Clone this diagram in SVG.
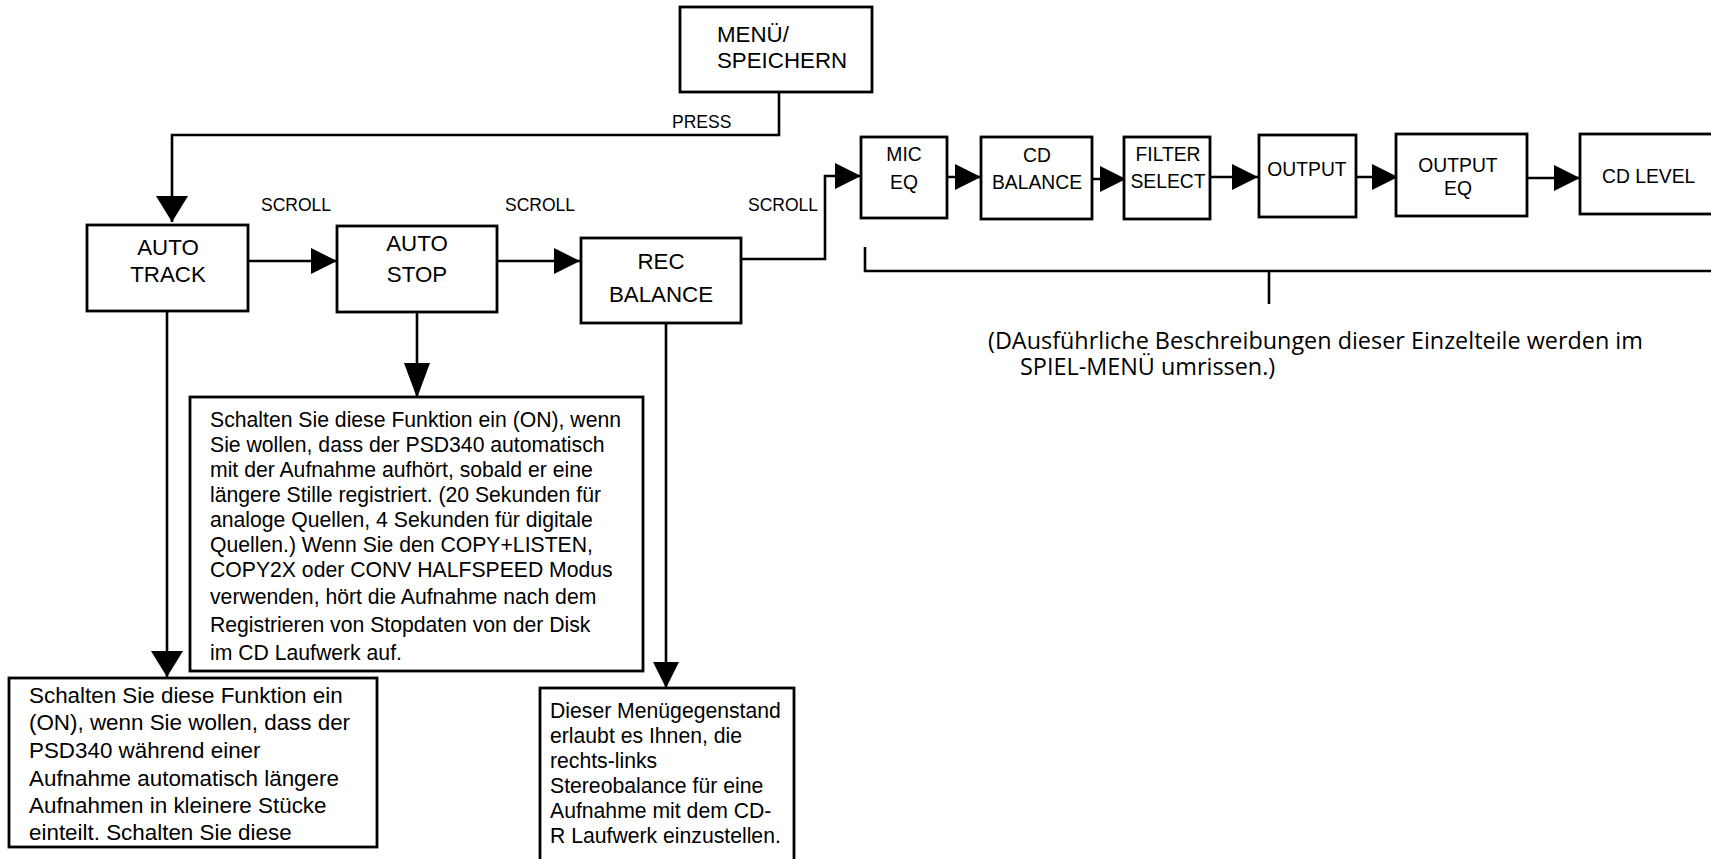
<svg xmlns="http://www.w3.org/2000/svg" width="1711" height="859" viewBox="0 0 1711 859">
  <style>
    .box { fill: #fff; stroke: #000; stroke-width: 2.8; }
    .wire { fill: none; stroke: #000; stroke-width: 2.6; }
    .big { font-family: "Liberation Sans", Arial, sans-serif; font-size: 22.3px; fill: #000; text-anchor: middle; }
    .mid { font-family: "Liberation Sans", Arial, sans-serif; font-size: 19.3px; fill: #000; text-anchor: middle; }
    .lbl { font-family: "Liberation Sans", Arial, sans-serif; font-size: 17.5px; fill: #000; }
    .desc { font-family: "Liberation Sans", Arial, sans-serif; font-size: 21.2px; fill: #000; }
    .descw { font-family: "Liberation Sans", Arial, sans-serif; font-size: 22.4px; fill: #000; }
    .note { font-family: "Open Sans", "Noto Sans", sans-serif; font-size: 23.4px; fill: #000; }
  </style>
  <defs>
    <marker id="a1" markerUnits="userSpaceOnUse" markerWidth="26" markerHeight="26" refX="26" refY="13" orient="auto">
      <path d="M0,0 L26,13 L0,26 Z" fill="#000"/>
    </marker>
    <marker id="a2" markerUnits="userSpaceOnUse" markerWidth="26" markerHeight="32" refX="26" refY="16" orient="auto">
      <path d="M0,0 L26,16 L0,32 Z" fill="#000"/>
    </marker>
    <marker id="a3" markerUnits="userSpaceOnUse" markerWidth="35" markerHeight="26" refX="35" refY="13" orient="auto">
      <path d="M0,0 L35,13 L0,26 Z" fill="#000"/>
    </marker>
  </defs>

  <rect width="1711" height="859" fill="#fff"/>

  <!-- connectors -->
  <g id="connectors">
    <path class="wire" d="M779,92 V135 H172 V222" marker-end="url(#a2)"/>
    <path class="wire" d="M248,261 H337" marker-end="url(#a1)"/>
    <path class="wire" d="M497,261 H580" marker-end="url(#a1)"/>
    <path class="wire" d="M741,259 H825 V176 H861" marker-end="url(#a1)"/>
    <path class="wire" d="M947,177 H981" marker-end="url(#a1)"/>
    <path class="wire" d="M1092,179 H1126" marker-end="url(#a1)"/>
    <path class="wire" d="M1210,177 H1258" marker-end="url(#a1)"/>
    <path class="wire" d="M1356,177 H1398" marker-end="url(#a1)"/>
    <path class="wire" d="M1527,178 H1580" marker-end="url(#a1)"/>
    <path class="wire" d="M167,311 V677" marker-end="url(#a2)"/>
    <path class="wire" d="M417,312 V398" marker-end="url(#a3)"/>
    <path class="wire" d="M666,323 V688" marker-end="url(#a1)"/>
    <!-- bracket over the play-menu items -->
    <path class="wire" d="M865,247 V271 H1712"/>
    <path class="wire" d="M1269,271 V304"/>
    <text class="lbl" x="672" y="128">PRESS</text>
    <text class="lbl" x="261" y="211">SCROLL</text>
    <text class="lbl" x="505" y="211">SCROLL</text>
    <text class="lbl" x="748" y="211">SCROLL</text>
  </g>

  <g id="menu-speichern">
    <rect class="box" x="680" y="7" width="192" height="85"/>
    <text class="big" style="text-anchor:start" x="717" y="42">MENÜ/</text>
    <text class="big" style="text-anchor:start" x="717" y="68">SPEICHERN</text>
  </g>

  <g id="auto-track">
    <rect class="box" x="87" y="225" width="161" height="86"/>
    <text class="big" x="168" y="255">AUTO</text>
    <text class="big" x="168" y="282">TRACK</text>
  </g>

  <g id="auto-stop">
    <rect class="box" x="337" y="226" width="160" height="86"/>
    <text class="big" x="417" y="251">AUTO</text>
    <text class="big" x="417" y="282">STOP</text>
  </g>

  <g id="rec-balance">
    <rect class="box" x="581" y="238" width="160" height="85"/>
    <text class="big" x="661" y="269">REC</text>
    <text class="big" x="661" y="302">BALANCE</text>
  </g>

  <g id="mic-eq">
    <rect class="box" x="861" y="137" width="86" height="81"/>
    <text class="mid" x="904" y="161">MIC</text>
    <text class="mid" x="904" y="189">EQ</text>
  </g>

  <g id="cd-balance">
    <rect class="box" x="981" y="137" width="111" height="82"/>
    <text class="mid" x="1037" y="162">CD</text>
    <text class="mid" x="1037" y="189">BALANCE</text>
  </g>

  <g id="filter-select">
    <rect class="box" x="1124" y="137" width="86" height="82"/>
    <text class="mid" x="1168" y="161">FILTER</text>
    <text class="mid" x="1168" y="188">SELECT</text>
  </g>

  <g id="output">
    <rect class="box" x="1259" y="135" width="97" height="82"/>
    <text class="mid" x="1307" y="176">OUTPUT</text>
  </g>

  <g id="output-eq">
    <rect class="box" x="1396" y="134" width="131" height="82"/>
    <text class="mid" x="1458" y="172">OUTPUT</text>
    <text class="mid" x="1458" y="195">EQ</text>
  </g>

  <g id="cd-level">
    <rect class="box" x="1580" y="134" width="140" height="80"/>
    <text class="mid" style="text-anchor:start" x="1602" y="183">CD LEVEL</text>
  </g>

  <g id="auto-stop-info">
    <rect class="box" x="190" y="397" width="453" height="274"/>
    <text class="desc" x="210" y="427">Schalten Sie diese Funktion ein (ON), wenn</text>
    <text class="desc" x="210" y="452">Sie wollen, dass der PSD340 automatisch</text>
    <text class="desc" x="210" y="477">mit der Aufnahme aufhört, sobald er eine</text>
    <text class="desc" x="210" y="502">längere Stille registriert.  (20 Sekunden für</text>
    <text class="desc" x="210" y="527">analoge Quellen, 4 Sekunden für digitale</text>
    <text class="desc" x="210" y="552">Quellen.)  Wenn Sie den COPY+LISTEN,</text>
    <text class="desc" x="210" y="577">COPY2X oder CONV HALFSPEED Modus</text>
    <text class="desc" x="210" y="604">verwenden, hört die Aufnahme nach dem</text>
    <text class="desc" x="210" y="632">Registrieren von Stopdaten von der Disk</text>
    <text class="desc" x="210" y="660">im CD Laufwerk auf.</text>
  </g>

  <g id="auto-track-info">
    <rect class="box" x="9" y="678" width="368" height="169"/>
    <text class="descw" x="29" y="703">Schalten Sie diese Funktion ein</text>
    <text class="descw" x="29" y="730">(ON), wenn Sie wollen, dass der</text>
    <text class="descw" x="29" y="758">PSD340 während einer</text>
    <text class="descw" x="29" y="786">Aufnahme automatisch längere</text>
    <text class="descw" x="29" y="813">Aufnahmen in kleinere Stücke</text>
    <text class="descw" x="29" y="840">einteilt.  Schalten Sie diese</text>
  </g>

  <g id="rec-balance-info">
    <rect class="box" x="540" y="688" width="254" height="175"/>
    <text class="desc" x="550" y="718">Dieser Menügegenstand</text>
    <text class="desc" x="550" y="743">erlaubt es Ihnen, die</text>
    <text class="desc" x="550" y="768">rechts-links</text>
    <text class="desc" x="550" y="793">Stereobalance für eine</text>
    <text class="desc" x="550" y="818">Aufnahme mit dem CD-</text>
    <text class="desc" x="550" y="843">R Laufwerk einzustellen.</text>
  </g>

  <g id="play-menu-note">
    <text class="note" x="988" y="349">(DAusführliche Beschreibungen dieser Einzelteile werden im</text>
    <text class="note" x="1020" y="375">SPIEL-MENÜ umrissen.)</text>
  </g>
</svg>
